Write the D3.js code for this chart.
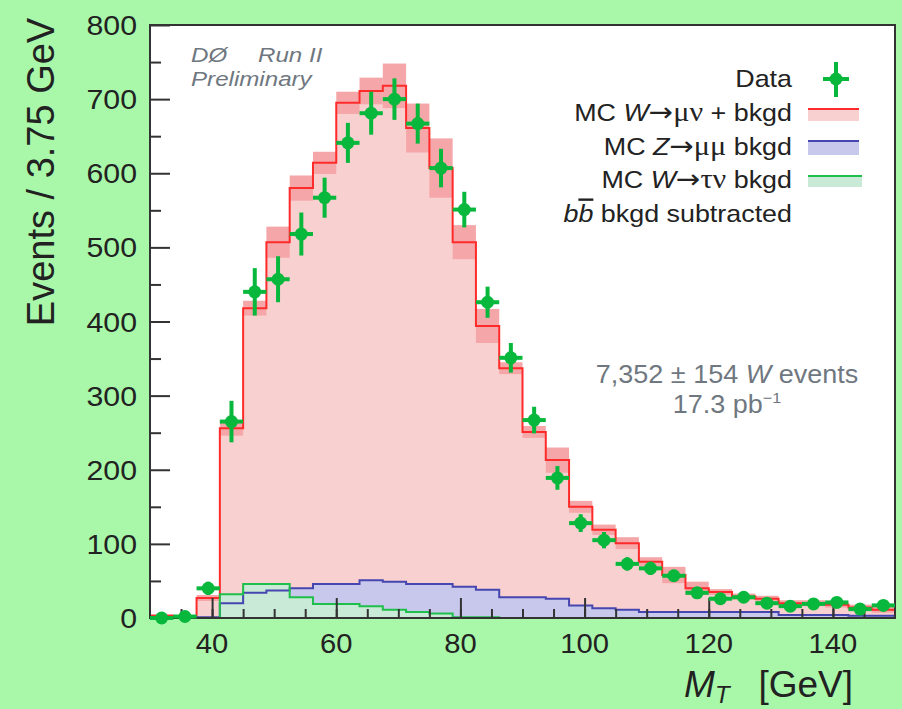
<!DOCTYPE html>
<html>
<head>
<meta charset="utf-8">
<script src="https://cdn.jsdelivr.net/npm/d3@7"></script>
<style>
  body { margin: 0; background: #a9f8a9; }
  svg { display: block; font-family: "Liberation Sans", Arial, sans-serif; }
</style>
</head>
<body>
<script>
// MT distribution, W -> mu nu, 3.75 GeV bins from 30 to 150 GeV
var binEdges = [30, 33.75, 37.5, 41.25, 45, 48.75, 52.5, 56.25, 60, 63.75, 67.5, 71.25,
                75, 78.75, 82.5, 86.25, 90, 93.75, 97.5, 101.25, 105, 108.75, 112.5, 116.25,
                120, 123.75, 127.5, 131.25, 135, 138.75, 142.5, 146.25, 150];

// data points (green) and their errors
var dataVals = [0, 2, 40, 265, 440, 457, 518, 567, 641, 681, 700, 667, 607, 551, 426, 351,
                267, 189, 128, 105, 73, 67, 57, 34, 26, 28, 20, 16, 19, 21, 12, 17];
var dataErr  = [4, 4, 9, 28, 32, 31, 29, 27, 27, 29, 28, 27, 26, 24, 21, 20,
                18, 16, 12, 11, 9, 9, 8, 7, 6, 6, 6, 5, 5, 5, 5, 5];

// MC W->mu nu + bkgd (red) and its band
var mcVals = [3, 1, 27, 256, 418, 507, 580, 614, 695, 711, 718, 661, 607, 507, 394, 337,
              251, 213, 150, 119, 101, 76, 58, 40, 35, 29, 26, 20, 20, 18, 14, 11];
var mcErr  = [2, 1, 4, 10, 10, 21, 17, 15, 15, 18, 30, 33, 40, 23, 23, 8,
              8, 17, 8, 7, 8, 6, 11, 9, 4, 4, 4, 4, 4, 4, 4, 4];

// MC Z->mu mu bkgd (blue)
var zVals = [0, 0, 1, 20, 34, 37, 40, 46, 46, 51, 49, 46, 46, 42, 38, 28,
             28, 26, 17, 13, 11, 8, 8, 8, 8, 8, 8, 4, 4, 4, 3, 3];

// MC W->tau nu bkgd (green)
var tauVals = [0, 0, 0, 32, 46, 46, 28, 19, 19, 16, 11, 8, 6, 1, 1, 0,
               0, 0, 0, 0, 0, 0, 0, 0, 0, 0, 0, 0, 0, 0, 0, 0];

var yMajor = [0, 100, 200, 300, 400, 500, 600, 700, 800];
var xMajor = [40, 60, 80, 100, 120, 140];

var w = 902, h = 709;

var x = d3.scaleLinear().domain([30, 150]).range([150, 895]);
var y = d3.scaleLinear().domain([0, 800]).range([618, 25]);

var svg = d3.select("body").append("svg")
    .attr("width", w)
    .attr("height", h);

svg.append("rect").attr("width", w).attr("height", h).attr("fill", "#a9f8a9");
svg.append("rect")
    .attr("x", x(30)).attr("y", y(800))
    .attr("width", x(150) - x(30)).attr("height", y(0) - y(800))
    .attr("fill", "#fff");

// helpers for stepped histograms
function pts(vals) {
  var p = [[binEdges[0], 0]];
  vals.forEach(function(v, i) { p.push([binEdges[i], v]); });
  p.push([binEdges[vals.length], vals[vals.length - 1]]);
  return p;
}
var stepLine = d3.line()
    .x(function(d) { return x(d[0]); })
    .y(function(d) { return y(d[1]); })
    .curve(d3.curveStepAfter);
var stepArea = d3.area()
    .x(function(d) { return x(d[0]); })
    .y0(y(0))
    .y1(function(d) { return y(d[1]); })
    .curve(d3.curveStepAfter);

var hist = svg.append("g");

// red fill
hist.append("path").attr("d", stepArea(pts(mcVals))).attr("fill", "#f8d0cf");

// red uncertainty band
hist.selectAll(".band")
  .data(mcVals)
  .enter().append("rect")
    .attr("x", function(d, i) { return x(binEdges[i]); })
    .attr("width", function(d, i) { return x(binEdges[i + 1]) - x(binEdges[i]); })
    .attr("y", function(d, i) { return y(d + mcErr[i]); })
    .attr("height", function(d, i) { return y(Math.max(0, d - mcErr[i])) - y(d + mcErr[i]); })
    .attr("fill", "#f5a6a8");

// blue and green fills
hist.append("path").attr("d", stepArea(pts(zVals))).attr("fill", "#c8c8ec");
hist.append("path").attr("d", stepArea(pts(tauVals))).attr("fill", "#c8ead6");

// outlines
hist.append("path").attr("d", stepLine(pts(mcVals)))
    .attr("fill", "none").attr("stroke", "#ff2b2b").attr("stroke-width", 2);
hist.append("path").attr("d", stepLine(pts(zVals)))
    .attr("fill", "none").attr("stroke", "#4646b0").attr("stroke-width", 2);
hist.append("path").attr("d", stepLine(pts(tauVals)))
    .attr("fill", "none").attr("stroke", "#1fbf4c").attr("stroke-width", 2);

// axes (ticks inside the frame)
var ax = svg.append("g").attr("stroke", "#333");
ax.append("g").attr("transform", "translate(" + x(30) + ",0)")
    .call(d3.axisLeft(y).tickValues(d3.range(50, 800, 100)).tickSize(-11).tickFormat(""));
ax.append("g").attr("transform", "translate(" + x(30) + ",0)")
    .call(d3.axisLeft(y).tickValues(yMajor).tickSize(-20).tickFormat(""));
ax.append("g").attr("transform", "translate(0," + y(0) + ")")
    .call(d3.axisBottom(x).tickValues(d3.range(35, 150, 5)).tickSize(-9).tickFormat(""));
ax.append("g").attr("transform", "translate(0," + y(0) + ")")
    .call(d3.axisBottom(x).tickValues(xMajor).tickSize(-20).tickFormat(""));
ax.selectAll("line").attr("stroke", "#333").attr("stroke-width", 2);
ax.selectAll(".domain").remove();

// frame
svg.append("rect")
    .attr("x", x(30)).attr("y", y(800))
    .attr("width", x(150) - x(30)).attr("height", y(0) - y(800))
    .attr("fill", "none").attr("stroke", "#333").attr("stroke-width", 2);

// data points
var green = "#08b83c";
var dp = svg.append("g").attr("fill", green).attr("stroke", green);
dataVals.forEach(function(v, i) {
  var cx = x((binEdges[i] + binEdges[i + 1]) / 2);
  dp.append("line")
      .attr("x1", x(binEdges[i])).attr("x2", x(binEdges[i + 1]))
      .attr("y1", y(v)).attr("y2", y(v)).attr("stroke-width", 4);
  dp.append("line")
      .attr("x1", cx).attr("x2", cx)
      .attr("y1", y(v - dataErr[i])).attr("y2", y(v + dataErr[i])).attr("stroke-width", 4);
  dp.append("circle").attr("cx", cx).attr("cy", y(v)).attr("r", 6.5).attr("stroke", "none");
});

// text helper: stretched horizontally a bit like the original
function label(x0, y0, size, anchor, sx) {
  return svg.append("text")
      .attr("transform", "translate(" + x0 + "," + y0 + ") scale(" + (sx || 1) + ",1)")
      .attr("font-size", size)
      .attr("text-anchor", anchor)
      .attr("fill", "#222");
}

yMajor.forEach(function(v) {
  label(137, y(v) + 10, 28, "end", 1.08).text(v);
});
xMajor.forEach(function(v) {
  label(x(v), 653, 27, "middle", 1.08).text(v);
});

// axis titles
svg.append("text")
    .attr("transform", "translate(54,172) rotate(-90)")
    .attr("font-size", 38)
    .attr("text-anchor", "middle")
    .attr("fill", "#222")
    .text("Events / 3.75 GeV");

var xt = label(853, 697, 37, "end", 1);
xt.append("tspan").attr("font-style", "italic").text("M");
xt.append("tspan").attr("font-style", "italic").attr("font-size", 24).attr("dy", 6).text("T");
xt.append("tspan").attr("dy", -6).text("\u2002 [GeV]");

// experiment label
var gray = "#6f7780";
label(191, 62, 21, "start", 1.15).attr("fill", gray).attr("font-style", "italic")
    .text("D\u00D8\u2003 Run II");
label(191, 86, 21, "start", 1.15).attr("fill", gray).attr("font-style", "italic")
    .text("Preliminary");

// annotation
var a1 = label(727, 383, 25, "middle", 1.08).attr("fill", gray);
a1.append("tspan").text("7,352 \u00B1 154 ");
a1.append("tspan").attr("font-style", "italic").text("W");
a1.append("tspan").text(" events");
var a2 = label(727, 413, 25, "middle", 1.08).attr("fill", gray);
a2.append("tspan").text("17.3 pb");
a2.append("tspan").attr("font-size", 15).attr("dy", -10).text("\u22121");

// legend
var serif = "'Liberation Serif', 'Times New Roman', serif";
var arrowFont = "'DejaVu Sans', sans-serif";
var lx = 792, ls = 24, lsx = 1.12;
label(lx, 87, ls, "end", lsx).text("Data");

function procLabel(yy, first, particle, arrowTo, tail) {
  var t = label(lx, yy, ls, "end", lsx);
  t.append("tspan").text("MC ");
  t.append("tspan").attr("font-style", "italic").text(particle);
  t.append("tspan").attr("font-family", arrowFont).attr("font-size", 26).text("\u2192");
  t.append("tspan").attr("font-family", serif).attr("font-size", 27).text(arrowTo);
  t.append("tspan").text(tail);
  return t;
}
procLabel(121, "MC ", "W", "\u03BC\u03BD", " + bkgd");
procLabel(155, "MC ", "Z", "\u03BC\u03BC", " bkgd");
procLabel(188, "MC ", "W", "\u03C4\u03BD", " bkgd");

var l4 = label(lx, 222, ls, "end", lsx);
l4.append("tspan").attr("font-style", "italic").text("b");
l4.append("tspan").attr("font-style", "italic").style("text-decoration", "overline").text("b");
l4.append("tspan").text(" bkgd subtracted");

// legend symbols
var leg = svg.append("g");
leg.append("line").attr("x1", 823).attr("x2", 849).attr("y1", 79).attr("y2", 79)
    .attr("stroke", green).attr("stroke-width", 4);
leg.append("line").attr("x1", 836).attr("x2", 836).attr("y1", 62).attr("y2", 97)
    .attr("stroke", green).attr("stroke-width", 4);
leg.append("circle").attr("cx", 836).attr("cy", 79).attr("r", 6.5).attr("fill", green);

var legBoxes = [
  {y: 109, hgt: 12, fill: "#f8d0cf", stroke: "#ff2b2b", x2: 859},
  {y: 141, hgt: 14, fill: "#c8c8ec", stroke: "#4646b0", x2: 859},
  {y: 176, hgt: 11, fill: "#c8ead6", stroke: "#1fbf4c", x2: 862}
];
legBoxes.forEach(function(b) {
  leg.append("rect").attr("x", 808).attr("y", b.y).attr("width", b.x2 - 808).attr("height", b.hgt)
      .attr("fill", b.fill);
  leg.append("line").attr("x1", 808).attr("x2", b.x2).attr("y1", b.y).attr("y2", b.y)
      .attr("stroke", b.stroke).attr("stroke-width", 2);
});
</script>
</body>
</html>
